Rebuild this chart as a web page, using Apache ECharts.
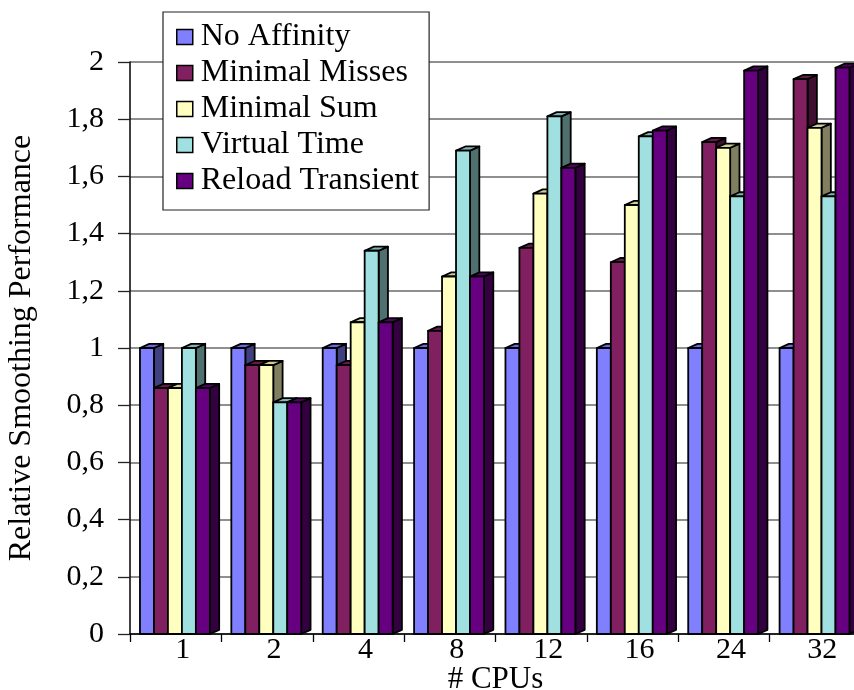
<!DOCTYPE html>
<html>
<head>
<meta charset="utf-8">
<title>Relative Smoothing Performance</title>
<script src="https://cdn.jsdelivr.net/npm/echarts@6/dist/echarts.min.js"></script>
<style>
  html, body { margin: 0; padding: 0; background: #ffffff; }
  #chart { width: 854px; height: 690px; }
</style>
</head>
<body>
<div id="chart"></div>
<script>
// Number of CPUs on the x axis
const cpus = ['1', '2', '4', '8', '12', '16', '24', '32'];

// Relative smoothing performance per scheduling policy
const noAffinity      = [1.00, 1.00, 1.00, 1.00, 1.00, 1.00, 1.00, 1.00];
const minimalMisses   = [0.86, 0.94, 0.94, 1.06, 1.35, 1.30, 1.72, 1.94];
const minimalSum      = [0.86, 0.94, 1.09, 1.25, 1.54, 1.50, 1.70, 1.77];
const virtualTime     = [1.00, 0.81, 1.34, 1.69, 1.81, 1.74, 1.53, 1.53];
const reloadTransient = [0.86, 0.81, 1.09, 1.25, 1.63, 1.76, 1.97, 1.98];

const seriesNames = ['No Affinity', 'Minimal Misses', 'Minimal Sum', 'Virtual Time', 'Reload Transient'];
const seriesValues = [noAffinity, minimalMisses, minimalSum, virtualTime, reloadTransient];

// front / top / side face colours of each 3D bar
const palette = [
  { front: '#8080ff', top: '#6a6ad8', side: '#404080' },
  { front: '#802060', top: '#66194d', side: '#401030' },
  { front: '#ffffc0', top: '#cfcf9c', side: '#808060' },
  { front: '#a0e0e0', top: '#80b4b4', side: '#507070' },
  { front: '#660080', top: '#520066', side: '#330040' }
];

const FONT = '"Liberation Serif", "Times New Roman", serif';

// Draws one extruded bar: front face, top face and right side face.
function barRenderer(idx) {
  const c = palette[idx];
  return function (params, api) {
    const cat = api.value(0);
    const val = api.value(1);
    const base = api.coord([cat, 0]);
    const top = api.coord([cat, val]);
    const band = api.size([1, 0])[0];
    const w = band * 0.153;
    const left = base[0] - band / 2 + band * 0.109 + w * idx;
    const dx = band * 0.102;
    const dy = -dx * 0.45;
    const y0 = top[1];
    const y1 = base[1];
    const stroke = { stroke: '#000', lineWidth: 1.8, lineJoin: 'round' };
    return {
      type: 'group',
      children: [
        {
          type: 'polygon',
          shape: { points: [[left + w, y0], [left + w + dx, y0 + dy], [left + w + dx, y1 + dy], [left + w, y1]] },
          style: Object.assign({ fill: c.side }, stroke)
        },
        {
          type: 'polygon',
          shape: { points: [[left, y0], [left + w, y0], [left + w + dx, y0 + dy], [left + dx, y0 + dy]] },
          style: Object.assign({ fill: c.top }, stroke)
        },
        {
          type: 'rect',
          shape: { x: left, y: y0, width: w, height: y1 - y0 },
          style: Object.assign({ fill: c.front }, stroke)
        }
      ]
    };
  };
}

const series = seriesNames.map(function (name, i) {
  return {
    name: name,
    type: 'custom',
    renderItem: barRenderer(i),
    itemStyle: { color: palette[i].front },
    encode: { x: 0, y: 1 },
    data: seriesValues[i].map(function (v, k) { return [k, v]; }),
    clip: false,
    z: 3
  };
});

const chart = echarts.init(document.getElementById('chart'), null, { renderer: 'canvas' });
chart.setOption({
  backgroundColor: '#ffffff',
  animation: false,
  textStyle: { fontFamily: FONT },
  grid: { left: 130, right: -7, top: 62, bottom: 56, containLabel: false, outerBoundsMode: 'none' },
  legend: {
    orient: 'vertical',
    left: 163,
    top: 12,
    padding: [7, 10, 11, 13],
    backgroundColor: '#ffffff',
    borderColor: '#222222',
    borderWidth: 1.2,
    borderRadius: 0,
    itemGap: 0,
    itemWidth: 16,
    itemHeight: 15,
    icon: 'rect',
    itemStyle: { borderColor: '#000', borderWidth: 1.5 },
    textStyle: { fontFamily: FONT, fontSize: 32, color: '#000', lineHeight: 36, width: 218, padding: [0, 0, 0, 3] },
    data: seriesNames,
    z: 10
  },
  xAxis: {
    type: 'category',
    data: cpus,
    name: '# CPUs',
    nameLocation: 'middle',
    nameGap: 30,
    nameMoveOverlap: false,
    nameTextStyle: { fontFamily: FONT, fontSize: 31, color: '#000', verticalAlign: 'top' },
    axisLine: { show: true, lineStyle: { color: '#000', width: 1.5 } },
    axisTick: { show: true, length: 8, lineStyle: { color: '#000', width: 1.3 } },
    axisLabel: { fontFamily: FONT, fontSize: 30, color: '#000', margin: 1, padding: [0, 0, 0, 14] },
    splitLine: { show: false }
  },
  yAxis: {
    type: 'value',
    min: 0,
    max: 2,
    interval: 0.2,
    name: 'Relative Smoothing Performance',
    nameLocation: 'middle',
    nameGap: 92,
    nameMoveOverlap: false,
    nameTextStyle: { fontFamily: FONT, fontSize: 32, color: '#000' },
    axisLine: { show: true, lineStyle: { color: '#000', width: 1.5 } },
    axisTick: { show: true, length: 12, lineStyle: { color: '#222', width: 1.3 } },
    axisLabel: {
      fontFamily: FONT, fontSize: 30, color: '#000', margin: 26,
      formatter: function (v) {
        const s = Math.abs(v - Math.round(v)) < 1e-9 ? String(Math.round(v)) : v.toFixed(1);
        return s.replace('.', ',');
      }
    },
    splitLine: { show: true, lineStyle: { color: '#6a6a6a', width: 1.5 } }
  },
  series: series
});
</script>
</body>
</html>
